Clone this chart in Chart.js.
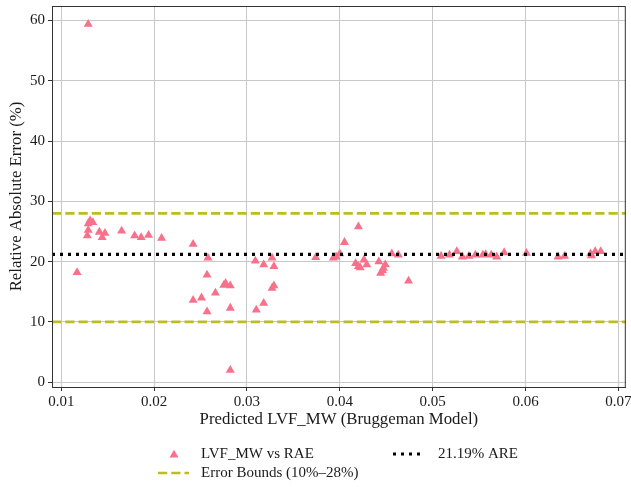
<!DOCTYPE html>
<html>
<head>
<meta charset="utf-8">
<script src="https://cdn.jsdelivr.net/npm/chart.js@4.4.1/dist/chart.umd.min.js"></script>
<style>
  html, body { margin: 0; padding: 0; background: #fff; }
  #raeChart { display: block; }
</style>
</head>
<body>
<canvas id="raeChart" width="631" height="487"></canvas>
<script>
/* Relative absolute error vs predicted LVF_MW (Bruggeman model) */

const predictedLvf = [
  0.0117, 0.0129, 0.0128, 0.0129, 0.0129, 0.0131, 0.0134, 0.0141, 0.0144, 0.0147,
  0.0165, 0.0179, 0.0186, 0.0194, 0.0208, 0.0242, 0.0258, 0.0257, 0.0242, 0.0251,
  0.0257, 0.0266, 0.0275, 0.0277, 0.0282, 0.0282, 0.0282, 0.0309, 0.0310, 0.0318,
  0.0318, 0.0327, 0.0329, 0.0327, 0.0329, 0.0374, 0.0393, 0.0396, 0.0400, 0.0405,
  0.0420, 0.0417, 0.0420, 0.0422, 0.0426, 0.0429, 0.0442, 0.0444, 0.0446, 0.0447,
  0.0449, 0.0456, 0.0463, 0.0474, 0.0509, 0.0518, 0.0526, 0.0532, 0.0539, 0.0546,
  0.0554, 0.0557, 0.0563, 0.0569, 0.0577, 0.0601, 0.0635, 0.0642, 0.0670, 0.0671,
  0.0675, 0.0681
];
const raeValues = [
  18.2, 59.4, 24.3, 25.2, 26.3, 26.8, 26.5, 24.9, 24.0, 24.7,
  25.1, 24.3, 24.0, 24.4, 23.9, 22.9, 20.6, 17.8, 13.6, 14.0,
  11.7, 14.8, 16.1, 16.4, 16.0, 12.3, 2.0, 20.1, 12.0, 19.5,
  13.1, 20.6, 19.2, 15.6, 16.0, 20.7, 20.6, 20.8, 21.3, 23.2,
  25.8, 19.7, 19.2, 19.0, 20.3, 19.5, 20.0, 18.1, 18.5, 18.9,
  19.5, 21.3, 21.1, 16.8, 20.9, 21.1, 21.7, 20.8, 20.9, 21.1,
  21.1, 21.2, 21.1, 20.8, 21.5, 21.4, 20.8, 20.9, 21.3, 21.0,
  21.7, 21.7
];

const meanAre = 21.19;
const errorBounds = [10, 28];

const xRange = [0.009, 0.0708];
const yRange = [-0.8, 62.4];
const xTicks = [0.01, 0.02, 0.03, 0.04, 0.05, 0.06, 0.07];
const yTicks = [0, 10, 20, 30, 40, 50, 60];

const labels = {
  scatter: "LVF_MW vs RAE",
  mean: meanAre.toFixed(2) + "% ARE",
  bounds: "Error Bounds (10%\u201328%)",
  xTitle: "Predicted LVF_MW (Bruggeman Model)",
  yTitle: "Relative Absolute Error (%)"
};

const PINK = "#f7718b";
const OLIVE = "#bcbd22";
const SERIF = "'Liberation Serif', 'Times New Roman', serif";
const TEXT = "#1a1a1a";

const hLine = (y) => xRange.map((x) => ({ x, y }));

// no extra room for edge tick labels, the frame is fixed
const noScalePadding = (s) => {
  s.paddingTop = 0;
  s.paddingBottom = 0;
  s.paddingLeft = 0;
  s.paddingRight = 0;
};

// top + right spines (Chart.js only draws the axis borders)
const frame = {
  id: "frame",
  afterDatasetsDraw(chart) {
    const { ctx, chartArea: a } = chart;
    ctx.save();
    ctx.strokeStyle = "#333";
    ctx.lineWidth = 1;
    ctx.strokeRect(a.left + 0.5, a.top + 0.5, a.right - a.left - 1, a.bottom - a.top);
    ctx.restore();
  }
};

// matplotlib style 2-column legend under the axis title
const bottomLegend = {
  id: "bottomLegend",
  afterDraw(chart) {
    const ctx = chart.ctx;
    const row1 = 454, row2 = 473;
    ctx.save();
    ctx.font = "15px " + SERIF;
    ctx.textBaseline = "middle";
    ctx.textAlign = "left";

    ctx.fillStyle = PINK;
    ctx.strokeStyle = PINK;
    Chart.helpers.drawPoint(ctx, { pointStyle: "triangle", radius: 5.2, borderWidth: 0 }, 174, row1 + 1);
    ctx.fillStyle = TEXT;
    ctx.fillText(labels.scatter, 201, row1);

    ctx.strokeStyle = OLIVE;
    ctx.lineWidth = 2.5;
    ctx.setLineDash([9.25, 4]);
    ctx.beginPath();
    ctx.moveTo(158, row2);
    ctx.lineTo(189, row2);
    ctx.stroke();
    ctx.fillText(labels.bounds, 201, row2);

    ctx.strokeStyle = "#000";
    ctx.lineWidth = 3;
    ctx.setLineDash([3, 5]);
    ctx.beginPath();
    ctx.moveTo(393, row1);
    ctx.lineTo(425, row1);
    ctx.stroke();
    ctx.setLineDash([]);
    ctx.fillText(labels.mean, 438, row1);
    ctx.restore();
  }
};

new Chart(document.getElementById("raeChart"), {
  type: "scatter",
  data: {
    datasets: [
      {
        label: labels.scatter,
        data: predictedLvf.map((x, i) => ({ x, y: raeValues[i] })),
        pointStyle: "triangle",
        pointRadius: 5.2,
        pointHoverRadius: 5.2,
        backgroundColor: PINK,
        borderColor: PINK,
        borderWidth: 0,
        order: 3
      },
      {
        label: labels.bounds,
        type: "line",
        data: hLine(errorBounds[0]),
        borderColor: OLIVE,
        borderWidth: 2.6,
        borderDash: [9.25, 4],
        pointRadius: 0,
        fill: false,
        order: 2
      },
      {
        label: labels.bounds + " (upper)",
        type: "line",
        data: hLine(errorBounds[1]),
        borderColor: OLIVE,
        borderWidth: 2.6,
        borderDash: [9.25, 4],
        pointRadius: 0,
        fill: false,
        order: 2
      },
      {
        label: labels.mean,
        type: "line",
        data: hLine(meanAre),
        borderColor: "#000",
        borderWidth: 3.2,
        borderDash: [3, 5],
        borderCapStyle: "butt",
        pointRadius: 0,
        fill: false,
        order: 1
      }
    ]
  },
  options: {
    responsive: false,
    animation: false,
    devicePixelRatio: 1,
    layout: { padding: { top: 6, right: 5, bottom: 57, left: 0 } },
    plugins: {
      legend: { display: false },
      tooltip: { enabled: false }
    },
    scales: {
      x: {
        type: "linear",
        min: xRange[0],
        max: xRange[1],
        afterBuildTicks: (s) => { s.ticks = xTicks.map((v) => ({ value: v })); },
        afterFit: (s) => { s.height = 43; noScalePadding(s); },
        ticks: {
          callback: (v) => Number(v).toFixed(2),
          color: TEXT,
          padding: 2,
          maxRotation: 0,
          font: { family: SERIF, size: 15 }
        },
        grid: { color: "#c8c8c8", lineWidth: 1, tickLength: 4, tickColor: "#333" },
        border: { color: "#333", width: 1 },
        title: {
          display: true,
          text: labels.xTitle,
          color: TEXT,
          padding: 0,
          font: { family: SERIF, size: 16.8 }
        }
      },
      y: {
        type: "linear",
        min: yRange[0],
        max: yRange[1],
        afterBuildTicks: (s) => { s.ticks = yTicks.map((v) => ({ value: v })); },
        afterFit: (s) => { s.width = 52; noScalePadding(s); },
        ticks: {
          color: TEXT,
          padding: 3,
          font: { family: SERIF, size: 15 }
        },
        grid: { color: "#c8c8c8", lineWidth: 1, tickLength: 4, tickColor: "#333" },
        border: { color: "#333", width: 1 },
        title: {
          display: true,
          text: labels.yTitle,
          color: TEXT,
          padding: { top: 7, bottom: 0 },
          font: { family: SERIF, size: 16.8 }
        }
      }
    }
  },
  plugins: [frame, bottomLegend]
});
</script>
</body>
</html>
